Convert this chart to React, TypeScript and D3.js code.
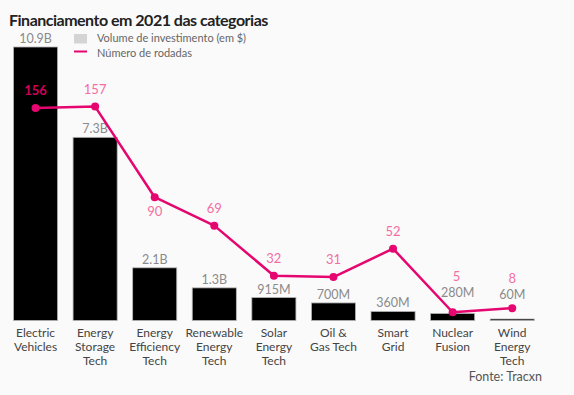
import React from 'react';
import * as d3 from 'd3';

const categories = [
  'Electric Vehicles', 'Energy Storage Tech', 'Energy Efficiency Tech', 'Renewable Energy Tech',
  'Solar Energy Tech', 'Oil & Gas Tech', 'Smart Grid', 'Nuclear Fusion', 'Wind Energy Tech',
];
const tickLines = [
  ['Electric', 'Vehicles'], ['Energy', 'Storage', 'Tech'], ['Energy', 'Efficiency', 'Tech'],
  ['Renewable', 'Energy', 'Tech'], ['Solar', 'Energy', 'Tech'], ['Oil &', 'Gas Tech'],
  ['Smart', 'Grid'], ['Nuclear', 'Fusion'], ['Wind', 'Energy', 'Tech'],
];
const volume = [10.9, 7.3, 2.1, 1.3, 0.915, 0.7, 0.36, 0.28, 0.06];
const volumeLabels = ['10.9B', '7.3B', '2.1B', '1.3B', '915M', '700M', '360M', '280M', '60M'];
const rounds = [156, 157, 90, 69, 32, 31, 52, 5, 8];
// label of the line sits under the point for these
const roundsLabelBelow = ['Energy Efficiency Tech'];

const W = 574;
const H = 395;
const base = 320.5;
const font = 'Lato, "Noto Sans", sans-serif';
const pink = '#e5066f';

export default function App() {
  const x = d3.scaleBand<string>().domain(categories).range([5.75, 542]).paddingInner(0.26).paddingOuter(0.13);
  const yBar = d3.scaleLinear().domain([0, 10.9]).range([base, 47]);
  const yLine = d3.scaleLinear().domain([0, 200]).range([319, 48.4]);
  const cx = (c: string) => (x(c) ?? 0) + x.bandwidth() / 2;

  const line = d3.line<number>()
    .x((_, i) => cx(categories[i]))
    .y(d => yLine(d));

  // a steep segment coming in from the left pushes the labels a bit right
  const steepIn = (i: number) => i > 0 && rounds[i - 1] > rounds[i] + 20;

  // bar value label baseline, lifted above the line point when they'd collide
  const barLabelY = (i: number) => {
    const normal = yBar(volume[i]) - 4;
    const py = yLine(rounds[i]);
    if (Math.abs(normal - py) < 12) return py - (steepIn(i) ? 15 : 9);
    return normal;
  };
  const lifted = (i: number) => barLabelY(i) !== yBar(volume[i]) - 4;

  return (
    <svg width={W} height={H} style={{ position: 'absolute', left: 0, top: 0, background: '#fafafa' }} fontFamily={font}>
      <rect width={W} height={H} fill="#fafafa" />
      <text x={9} y={26} fontSize={16} fontWeight={700} fill="#222" letterSpacing={-0.5}>
        Financiamento em 2021 das categorias
      </text>

      {categories.map((c, i) => {
        const dx = lifted(i) && steepIn(i) ? 5 : 0;
        return (
          <g key={c}>
            <rect x={x(c)} y={yBar(volume[i])} width={x.bandwidth()} height={base - yBar(volume[i])}
              fill="#000" stroke="#b5b5b5" strokeWidth={0.8} />
            <text x={cx(c) + dx} y={barLabelY(i)} textAnchor="middle" fontSize={12.5} fill="#8a8a8a">
              {volumeLabels[i]}
            </text>
            {tickLines[i].map((t, j) => (
              <text key={j} x={cx(c)} y={337 + j * 14} textAnchor="middle" fontSize={12} fill="#444">{t}</text>
            ))}
          </g>
        );
      })}

      {/* legend */}
      <rect x={74} y={34} width={13} height={9.5} fill="#d4d4d4" />
      <text x={97} y={41.5} fontSize={11} fill="#666">Volume de investimento (em $)</text>
      <line x1={74} x2={87} y1={51.5} y2={51.5} stroke={pink} strokeWidth={2} />
      <text x={97} y={56.5} fontSize={11} fill="#666">Número de rodadas</text>

      <path d={line(rounds) ?? ''} fill="none" stroke={pink} strokeWidth={2.5} strokeLinejoin="round" />
      {categories.map((c, i) => {
        const py = yLine(rounds[i]);
        const below = roundsLabelBelow.includes(c);
        const bl = barLabelY(i);
        let ly = below ? py + 19 : py - 13;
        if (!below && Math.abs(ly - bl) < 16) ly = bl - 16;
        const dx = lifted(i) && steepIn(i) ? 4 : 0;
        return (
          <g key={'p' + c}>
            <circle cx={cx(c)} cy={py} r={4} fill={pink} />
            <text x={cx(c) + dx} y={ly} textAnchor="middle" fontSize={13}
              fill={i === 0 ? '#d0005a' : '#f36ea3'} fontWeight={i === 0 ? 700 : 400}>
              {rounds[i]}
            </text>
          </g>
        );
      })}

      <text x={542} y={381} textAnchor="end" fontSize={12.5} fill="#555">Fonte: Tracxn</text>
    </svg>
  );
}
